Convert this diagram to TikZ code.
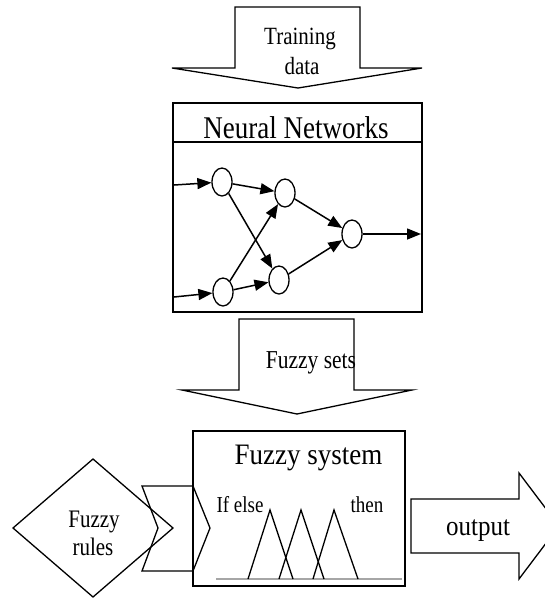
\documentclass[tikz,border=0pt]{standalone}
\usepackage{fontspec}
\setmainfont{Liberation Serif}
\usetikzlibrary{shapes.geometric,arrows.meta}
\newcommand{\vst}[2]{\scalebox{1}[#1]{#2}}
\begin{document}
\begin{tikzpicture}[x=1pt,y=-1pt,
  outl/.style={draw=black,line width=1.3pt,line join=miter},
  boxl/.style={draw=black,line width=2.6pt},
  neuron/.style={ellipse,draw,line width=1.3pt,minimum width=20pt,minimum height=28pt,inner sep=0pt},
  edge/.style={line width=1.5pt,-{Triangle[length=14pt,width=11pt]}},
  lbl/.style={inner sep=0pt,anchor=base,text=black}]
\useasboundingbox (0,0) rectangle (545,598);
\clip (0,0) rectangle (545,598);

% Training data arrow
\draw[outl] (235,7) -- (360,7) -- (360,68) -- (422,68) -- (298,88) -- (172,68) -- (235,68) -- cycle;
\node[lbl,font=\fontsize{21}{24}\selectfont] (tr1) at (300,44) {\vst{1.18}{Training}};
\node[lbl,font=\fontsize{21}{24}\selectfont] (tr2) at (302,74) {\vst{1.18}{data}};

% Neural network box
\draw[boxl] (173,103) rectangle (422,312);
\draw[boxl] (173,142) -- (422,142);
\node[lbl,font=\fontsize{27}{30}\selectfont] (nntitle) at (296,138) {\vst{1.17}{Neural Networks}};

\node[neuron] (n1) at (222,182) {};
\node[neuron] (n2) at (285,193) {};
\node[neuron] (n3) at (223,292) {};
\node[neuron] (n4) at (279,280) {};
\node[neuron] (n5) at (352,234) {};
\coordinate (in1) at (174,185);
\coordinate (in2) at (174,297);
\coordinate (out) at (421,234);
\draw[edge] (in1) -- (n1);
\draw[edge] (in2) -- (n3);
\draw[edge] (n1) -- (n2);
\draw[edge] (n1) -- (n4);
\draw[edge] (n3) -- (n2);
\draw[edge] (n3) -- (n4);
\draw[edge] (n2) -- (n5);
\draw[edge] (n4) -- (n5);
\draw[edge] (n5) -- (out);

% Fuzzy sets arrow
\node[lbl,font=\fontsize{21.5}{24}\selectfont] (fs) at (311,368) {\vst{1.2}{Fuzzy sets}};
\draw[outl] (239,319) -- (354,319) -- (354,390) -- (412,390) -- (297,414) -- (182,390) -- (239,390) -- cycle;

% Chevron and diamond
\draw[outl] (142,486) -- (193,486) -- (210,528) -- (193,571) -- (142,571) -- (158,528) -- cycle;
\draw[outl] (13,528) -- (93,459) -- (173,528) -- (93,597) -- cycle;
\node[lbl,font=\fontsize{21}{24}\selectfont] (fr1) at (94,527) {\vst{1.2}{Fuzzy}};
\node[lbl,font=\fontsize{21}{24}\selectfont] (fr2) at (93,555) {\vst{1.2}{rules}};

% Fuzzy system box
\draw[boxl] (193,431) rectangle (405,586);
\node[lbl,font=\fontsize{27}{30}\selectfont] (fstitle) at (308.5,464) {\vst{1.1}{Fuzzy system}};
\node[lbl,font=\fontsize{19}{22}\selectfont] (ifel) at (240,512) {\vst{1.2}{If else}};
\node[lbl,font=\fontsize{19}{22}\selectfont] (then) at (367,512) {\vst{1.2}{then}};
\draw[gray!70,line width=2pt] (216,579) -- (402,579);
\draw[outl] (248,579) -- (270,510) -- (293,579);
\draw[outl] (279,579) -- (301,510) -- (324,579);
\draw[outl] (313,579) -- (334,510) -- (358,579);

% Output arrow
\draw[outl] (411,499) -- (519,499) -- (519,473) -- (559,526) -- (519,579) -- (519,553) -- (411,553) -- cycle;
\node[lbl,font=\fontsize{25}{28}\selectfont] (outp) at (478,535) {\vst{1.12}{output}};
\end{tikzpicture}
\end{document}
